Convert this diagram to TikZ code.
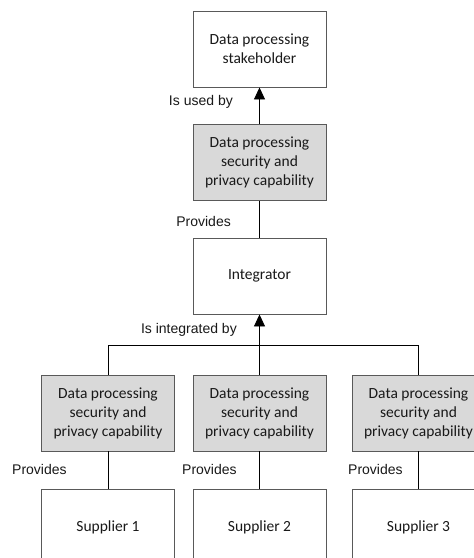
\documentclass[tikz,border=0pt]{standalone}
\usepackage{fontspec}
\setmainfont{Carlito}
\newfontfamily\labelfont{Liberation Sans}
\usetikzlibrary{arrows.meta}
\begin{document}
\begin{tikzpicture}[x=1pt,y=-1pt,
  box/.style={draw=black!65, line width=0.9pt, minimum width=133pt, minimum height=76pt,
    align=center, font=\fontsize{15.5}{19}\selectfont, text=black!90, inner sep=0pt},
  capbox/.style={box, fill=black!15},
  link/.style={draw=black, line width=0.9pt},
  arr/.style={link, -{Triangle[width=11pt,length=12pt]}},
  lbl/.style={font=\labelfont\fontsize{14}{16}\selectfont, text=black!90, inner sep=0pt}]
\useasboundingbox (0,0) rectangle (474,558);
\clip (0,0) rectangle (474,558);
\fill[white] (0,0) rectangle (474,558);

% upper chain
\node[box] (stake) at (259.5,49) {Data processing\\stakeholder};
\node[capbox] (cap) at (259.5,162.5) {Data processing\\security and\\privacy capability};
\node[box] (integ) at (259.5,276) {Integrator};

% suppliers and their capabilities
\node[capbox] (capA) at (108,413) {Data processing\\security and\\privacy capability};
\node[capbox] (capB) at (259.5,413) {Data processing\\security and\\privacy capability};
\node[capbox] (capC) at (418.5,413) {Data processing\\security and\\privacy capability};
\node[box] (supA) at (108,527) {Supplier 1};
\node[box] (supB) at (259.5,527) {Supplier 2};
\node[box] (supC) at (418.5,527) {Supplier 3};

% connectors
\draw[arr] (cap.north) -- (stake.south);
\draw[link] (integ.north) -- (cap.south);
\coordinate (bus) at (259.5,345);
\draw[arr] (capB.north) -- (integ.south);
\draw[link] (capA.north) -- (capA.north |- bus) -- (capC.north |- bus) -- (capC.north);
\draw[link] (supA.north) -- (capA.south);
\draw[link] (supB.north) -- (capB.south);
\draw[link] (supC.north) -- (capC.south);

% relation labels
\node[lbl, anchor=east] (l1) at (233,102) {Is used by};
\node[lbl, anchor=east] (l2) at (231,221) {Provides};
\node[lbl, anchor=east] (l3) at (237,330) {Is integrated by};
\node[lbl, anchor=west] (l4) at (12,469) {Provides};
\node[lbl, anchor=west] (l5) at (182,469) {Provides};
\node[lbl, anchor=west] (l6) at (348,469) {Provides};
\end{tikzpicture}
\end{document}
